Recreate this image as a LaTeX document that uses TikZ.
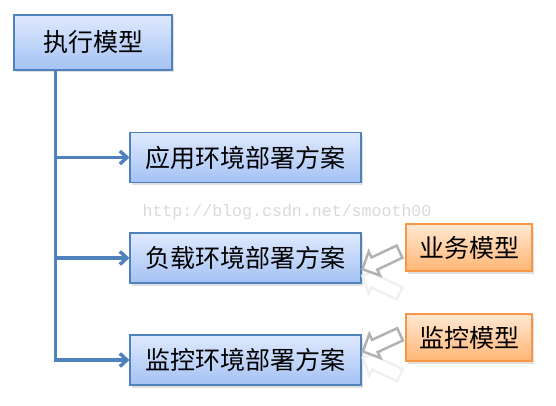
\documentclass[tikz,border=0pt]{standalone}
\usepackage{fontspec}
\newfontfamily\cjk{Noto Sans CJK SC}
\newfontfamily\wmfont{Liberation Mono}
\usetikzlibrary{positioning}
\usetikzlibrary{arrows.meta}
\usetikzlibrary{shapes.arrows}
\usetikzlibrary{shadows}
\definecolor{boxline}{HTML}{4F81BD}
\definecolor{boxtop}{HTML}{DFE9FD}
\definecolor{boxbot}{HTML}{A4C2F4}
\definecolor{orline}{HTML}{F79646}
\definecolor{ortop}{HTML}{FFE8D2}
\definecolor{orbot}{HTML}{FFB675}
\tikzset{
  % blue box: model or deployment plan
  plan/.style={
    draw=boxline, line width=1.1pt, top color=boxtop, bottom color=boxbot,
    minimum width=#1, minimum height=50pt, inner sep=0pt,
    font=\cjk\fontsize{25}{28}\selectfont,
    drop shadow={shadow xshift=1.5pt, shadow yshift=-2.5pt, opacity=.25}},
  % orange box: input model
  inmodel/.style={
    draw=orline, line width=1.1pt, top color=ortop, bottom color=orbot,
    minimum width=126pt, minimum height=47pt, inner sep=0pt,
    font=\cjk\fontsize{25}{28}\selectfont,
    drop shadow={shadow xshift=1.5pt, shadow yshift=-2.5pt, opacity=.25}},
  % hollow arrow and its reflection
  hollow/.style={
    single arrow, draw=gray!60, fill=white, line width=2.5pt,
    inner xsep=0pt, inner ysep=5.5pt,
    minimum height=41pt, minimum width=25pt, single arrow head extend=6.5pt,
    rotate=#1},
  mirror/.style={hollow=#1, draw=gray!12},
  % connectors
  branch/.style={draw=boxline, line width=3.5pt,
    -{Straight Barb[length=7pt, width=13pt]}},
  wm/.style={font=\wmfont\fontsize{16.6}{18}\selectfont, text=gray!30, inner sep=0pt},
}

\begin{document}
\begin{tikzpicture}[x=1pt, y=-1pt]
\useasboundingbox (0,0) rectangle (556,406);

\node[plan=158pt, minimum height=55pt] (exec) at (93,42.5) {执行模型};
\node[plan=231pt] (app)  at (245.5,157.5) {应用环境部署方案};
\node[plan=231pt] (load) at (245.5,258)   {负载环境部署方案};
\node[plan=231pt] (mon)  at (245.5,360)   {监控环境部署方案};

\node[inmodel] (biz)  at (469,247.5) {业务模型};
\node[inmodel] (mmod) at (469,337.5) {监控模型};

\node[wm] (mark) at (287,212) {http://blog.csdn.net/smooth00};

% tree from the execution model
\coordinate (trunk) at (55.5,69);
\draw[boxline, line width=3.5pt] (trunk) -- (trunk |- mon.west) -- ++(2,0);
\draw[branch] (trunk |- app.west)  -- (app.west);
\draw[branch] (trunk |- load.west) -- (load.west);
\draw[branch] (trunk |- mon.west)  -- (mon.west);

% hollow arrows from the input models
\node[mirror=154.7] (bizshade) at (384,286) {};
\node[hollow=205.3] (bizarrow) at (384,259) {};
\node[mirror=155.3] (monshade) at (384.5,368) {};
\node[hollow=204.7] (monarrow) at (384.5,341.5) {};

\end{tikzpicture}
\end{document}
